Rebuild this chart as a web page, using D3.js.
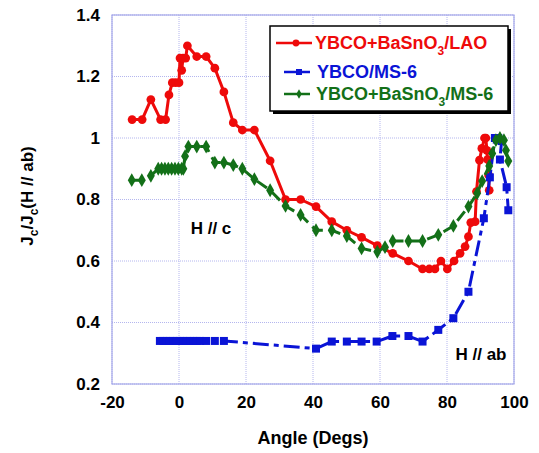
<!DOCTYPE html>
<html>
<head>
<meta charset="utf-8">
<script src="https://cdn.jsdelivr.net/npm/d3@7"></script>
<style>
  html, body { margin: 0; padding: 0; background: #fff; }
  svg { display: block; font-family: Arial, "Liberation Sans", sans-serif; font-weight: bold; }
</style>
</head>
<body>
<svg id="chart" width="539" height="453"></svg>
<script>
// Angle (deg) and normalised Jc for each film
const lao_angle = [-14, -11, -8.4, -5.5, -4, -3, -2, -1, 0, 0.3, 0.8, 1.2, 2, 2.5, 5.3, 8.1, 10.7, 13.4, 16.2, 18.9, 22.5, 27.2, 31.8, 36.3, 40.9, 45.6, 50.1, 54.5, 59.2, 63.8, 68.5, 72.7, 74.7, 76.4, 78.2, 80.1, 82.1, 83.9, 85.4, 86.4, 87.1, 88.4, 88.8, 89.7, 90.4, 91.2, 91.6, 91.9, 92.1, 92.4, 92.6];
const lao_jc    = [1.06, 1.06, 1.125, 1.06, 1.06, 1.14, 1.18, 1.18, 1.18, 1.26, 1.22, 1.26, 1.26, 1.30, 1.265, 1.265, 1.227, 1.15, 1.05, 1.026, 1.026, 0.926, 0.80, 0.80, 0.777, 0.728, 0.70, 0.677, 0.65, 0.625, 0.60, 0.574, 0.574, 0.574, 0.60, 0.574, 0.60, 0.625, 0.647, 0.679, 0.725, 0.728, 0.826, 0.928, 0.966, 1.0, 1.0, 0.96, 0.93, 0.88, 0.83];

const ms6_angle = [-5.7, -4.7, -3.7, -2.7, -1.7, -0.7, 0.3, 1.3, 2.3, 3.3, 4.3, 5.3, 6.3, 8.1, 10.7, 13.4, 40.9, 45.6, 50.1, 54.5, 59.0, 63.7, 68.5, 72.7, 77.4, 81.9, 86.4, 91.0, 92.8, 94.3, 95.3, 96.3, 95.8, 97.8, 98.3];
const ms6_jc    = [0.34, 0.34, 0.34, 0.34, 0.34, 0.34, 0.34, 0.34, 0.34, 0.34, 0.34, 0.34, 0.34, 0.34, 0.34, 0.34, 0.315, 0.338, 0.338, 0.338, 0.338, 0.356, 0.356, 0.338, 0.376, 0.414, 0.50, 0.739, 0.872, 1.0, 1.0, 0.99, 0.93, 0.84, 0.765];

const bso_ms6_angle = [-14.1, -11.1, -8.4, -6.2, -5.2, -4.2, -3.2, -2.2, -1.2, -0.2, 0.8, 1.3, 1.8, 2.8, 5.3, 8.1, 10.7, 13.4, 16.2, 18.9, 22.5, 27.2, 31.8, 36.3, 40.9, 45.6, 50.1, 54.5, 59.2, 61.5, 63.8, 68.5, 72.7, 77.4, 81.9, 86.4, 89.0, 90.5, 92.6, 93.5, 94.6, 95.8, 97.0, 97.6, 98.3];
const bso_ms6_jc    = [0.863, 0.863, 0.877, 0.90, 0.90, 0.90, 0.90, 0.90, 0.90, 0.90, 0.90, 0.90, 0.941, 0.972, 0.972, 0.972, 0.92, 0.92, 0.912, 0.90, 0.866, 0.83, 0.779, 0.75, 0.70, 0.70, 0.681, 0.641, 0.63, 0.645, 0.665, 0.665, 0.665, 0.685, 0.714, 0.777, 0.82, 0.86, 0.909, 0.95, 0.993, 1.0, 0.993, 0.96, 0.925];

const xTicks = [-20, 0, 20, 40, 60, 80, 100];
const xTickLabels = ["-20", "0", "20", "40", "60", "80", "100"];
const yTicks = [0.2, 0.4, 0.6, 0.8, 1.0, 1.2, 1.4];
const yTickLabels = ["0.2", "0.4", "0.6", "0.8", "1", "1.2", "1.4"];

const svg = d3.select("#chart");
const L = 112, R = 514, T = 15, B = 384;

const x = d3.scaleLinear().domain([-20, 100]).range([L, R]);
const y = d3.scaleLinear().domain([0.2, 1.4]).range([B, T]);

const gridColor = "#b4b6ee";

// grid
const grid = svg.append("g");
grid.selectAll("line.vx").data(xTicks).join("line")
  .attr("x1", d => x(d)).attr("x2", d => x(d)).attr("y1", T).attr("y2", B)
  .attr("stroke", gridColor).attr("stroke-width", 1).attr("stroke-dasharray", "1,1");
grid.selectAll("line.hy").data(yTicks).join("line")
  .attr("y1", d => y(d)).attr("y2", d => y(d)).attr("x1", L).attr("x2", R)
  .attr("stroke", gridColor).attr("stroke-width", 1).attr("stroke-dasharray", "1,1");

// frame
svg.append("rect").attr("x", L).attr("y", T).attr("width", R - L).attr("height", B - T)
  .attr("fill", "none").attr("stroke", "#a6a8ea").attr("stroke-width", 1.2);

// axes
const xAxis = svg.append("g").attr("transform", `translate(0,${B})`)
  .call(d3.axisBottom(x).tickValues(xTicks).tickSize(0).tickPadding(12).tickFormat((d, i) => xTickLabels[i]));
const yAxis = svg.append("g").attr("transform", `translate(${L},0)`)
  .call(d3.axisLeft(y).tickValues(yTicks).tickSize(0).tickPadding(12).tickFormat((d, i) => yTickLabels[i]));
[xAxis, yAxis].forEach(a => {
  a.select(".domain").remove();
  a.selectAll("text").attr("font-size", 17).attr("font-weight", "bold")
    .attr("font-family", "Arial, 'Liberation Sans', sans-serif").attr("fill", "#000");
});

// axis titles
svg.append("text").attr("x", 313).attr("y", 444).attr("text-anchor", "middle")
  .attr("font-size", 18).text("Angle (Degs)");

const yt = svg.append("text").attr("transform", "translate(33,196) rotate(-90)")
  .attr("text-anchor", "middle").attr("font-size", 17);
yt.append("tspan").text("J");
yt.append("tspan").attr("font-size", 12).attr("dy", 5).text("c");
yt.append("tspan").attr("dy", -5).text("/J");
yt.append("tspan").attr("font-size", 12).attr("dy", 5).text("c");
yt.append("tspan").attr("dy", -5).text("(H // ab)");

// series
const series = [
  { name: "lao", xs: lao_angle, ys: lao_jc, color: "#ee0a0a", dash: null, marker: "circle" },
  { name: "ms6", xs: ms6_angle, ys: ms6_jc, color: "#0a14d6", dash: "16,5,5,5", marker: "square" },
  { name: "bsoms6", xs: bso_ms6_angle, ys: bso_ms6_jc, color: "#137018", dash: "12,6", marker: "diamond" }
];

const line = d3.line().x(d => x(d[0])).y(d => y(d[1]));
const symbolFor = { circle: d3.symbolCircle, square: d3.symbolSquare, diamond: d3.symbolDiamond };
const sizeFor = { circle: 60, square: 64, diamond: 55 };

series.forEach(s => {
  const pts = s.xs.map((a, i) => [a, s.ys[i]]);
  svg.append("path").datum(pts).attr("d", line)
    .attr("fill", "none").attr("stroke", s.color).attr("stroke-width", 3)
    .attr("stroke-linejoin", "round")
    .attr("stroke-dasharray", s.dash);
  svg.append("g").selectAll("path").data(pts).join("path")
    .attr("transform", d => `translate(${x(d[0])},${y(d[1])})`)
    .attr("d", d3.symbol(symbolFor[s.marker], sizeFor[s.marker]))
    .attr("fill", s.color);
});

// annotations
svg.append("text").attr("x", 211).attr("y", 234).attr("text-anchor", "middle").attr("font-size", 17).text("H // c");
svg.append("text").attr("x", 481).attr("y", 360).attr("text-anchor", "middle").attr("font-size", 17).text("H // ab");

// legend
const lg = svg.append("g");
lg.append("rect").attr("x", 273).attr("y", 29).attr("width", 238).attr("height", 85).attr("fill", "#000");
lg.append("rect").attr("x", 270).attr("y", 26).attr("width", 238).attr("height", 85)
  .attr("fill", "#fff").attr("stroke", "#000").attr("stroke-width", 1.5);

const legendRows = [
  { s: series[0], y: 43, x1: 276, x2: 312, tx: 315, parts: ["YBCO+BaSnO", "3", "/LAO"] },
  { s: series[1], y: 72, x1: 284, x2: 310, tx: 317, parts: ["YBCO/MS-6"] },
  { s: series[2], y: 94, x1: 284, x2: 310, tx: 316, parts: ["YBCO+BaSnO", "3", "/MS-6"] }
];
legendRows.forEach(r => {
  lg.append("line").attr("x1", r.x1).attr("x2", r.x2).attr("y1", r.y).attr("y2", r.y)
    .attr("stroke", r.s.color).attr("stroke-width", 2.5);
  lg.append("path").attr("transform", `translate(${(r.x1 + r.x2) / 2 + 2},${r.y})`)
    .attr("d", d3.symbol(symbolFor[r.s.marker], r.s.marker === "diamond" ? 25 : 36)).attr("fill", r.s.color);
  const t = lg.append("text").attr("x", r.tx).attr("y", r.y + 6).attr("font-size", 18).attr("fill", r.s.color);
  t.append("tspan").text(r.parts[0]);
  if (r.parts.length > 1) {
    t.append("tspan").attr("font-size", 12).attr("dy", 6).text(r.parts[1]);
    t.append("tspan").attr("dy", -6).text(r.parts[2]);
  }
});
</script>
</body>
</html>
